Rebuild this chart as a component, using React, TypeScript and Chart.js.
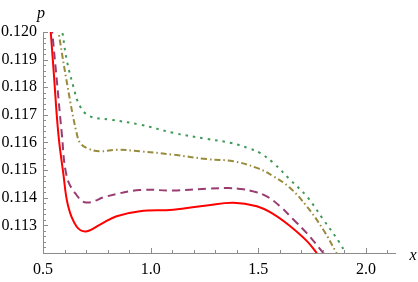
import React, { useEffect, useRef } from "react";
import { Chart, registerables } from "chart.js";

Chart.register(...registerables);

const xTicks = [0.5, 1.0, 1.5, 2.0];
const yTicks = [0.113, 0.114, 0.115, 0.116, 0.117, 0.118, 0.119, 0.12];

const redX = [0.53, 0.55, 0.571, 0.594, 0.617, 0.656, 0.7, 0.765, 0.842, 0.95, 1.105, 1.26, 1.384, 1.493, 1.57, 1.647, 1.725, 1.771, 1.8];
const redY = [0.12065, 0.11853, 0.11634, 0.1149, 0.11369, 0.11296, 0.11278, 0.11303, 0.11333, 0.11351, 0.11357, 0.11372, 0.11382, 0.11369, 0.11341, 0.11298, 0.11244, 0.112, 0.11168];

const purpleX = [0.535, 0.543, 0.565, 0.587, 0.61, 0.649, 0.7, 0.796, 0.95, 1.105, 1.26, 1.36, 1.415, 1.477, 1.539, 1.601, 1.663, 1.725, 1.802, 1.83];
const purpleY = [0.1207, 0.12, 0.11818, 0.11635, 0.11478, 0.11417, 0.11383, 0.11405, 0.11428, 0.11426, 0.11433, 0.11435, 0.11432, 0.11423, 0.11405, 0.11369, 0.11321, 0.11272, 0.112, 0.11173];

const goldX = [0.56, 0.572, 0.625, 0.656, 0.672, 0.703, 0.765, 0.842, 0.95, 1.105, 1.26, 1.384, 1.493, 1.57, 1.647, 1.725, 1.802, 1.863, 1.89];
const goldY = [0.1207, 0.12, 0.11755, 0.11635, 0.11599, 0.1158, 0.11568, 0.11574, 0.11568, 0.11556, 0.1154, 0.11532, 0.11508, 0.11478, 0.11436, 0.11369, 0.11284, 0.112, 0.1116];

const greenX = [0.58, 0.59, 0.61, 0.641, 0.672, 0.718, 0.811, 0.95, 1.105, 1.26, 1.369, 1.46, 1.508, 1.57, 1.647, 1.725, 1.802, 1.879, 1.905, 1.93];
const greenY = [0.1205, 0.12, 0.119, 0.11803, 0.11731, 0.11695, 0.11683, 0.11665, 0.11635, 0.11613, 0.11599, 0.11578, 0.11562, 0.11526, 0.11466, 0.11405, 0.11321, 0.11236, 0.112, 0.1117];

const FONT = "'Liberation Serif', 'Times New Roman', serif";
const AXIS_COLOR = "#8c8c8c";

const toPts = (xs: number[], ys: number[]) => xs.map((x, i) => ({ x, y: ys[i] }));

const axisPlugin = {
  id: "mmaAxes",
  afterDraw(chart: any) {
    const { ctx, chartArea, scales } = chart;
    const xs = scales.x;
    const ys = scales.y;
    ctx.save();
    ctx.strokeStyle = AXIS_COLOR;
    ctx.lineWidth = 1;
    for (let i = 0; i <= 40; i++) {
      const v = 0.112 + i * 0.0002;
      const py = Math.round(ys.getPixelForValue(v)) + 0.5;
      const len = i % 5 === 0 ? 5 : 3;
      ctx.beginPath();
      ctx.moveTo(chartArea.left, py);
      ctx.lineTo(chartArea.left + len, py);
      ctx.stroke();
    }
    for (let i = 0; i <= 16; i++) {
      const v = 0.5 + i * 0.1;
      const px = Math.round(xs.getPixelForValue(v)) + 0.5;
      const len = i % 5 === 0 ? 5 : 3;
      ctx.beginPath();
      ctx.moveTo(px, chartArea.bottom);
      ctx.lineTo(px, chartArea.bottom - len);
      ctx.stroke();
    }
    ctx.fillStyle = "#000";
    ctx.font = `italic 16px ${FONT}`;
    ctx.textAlign = "center";
    ctx.textBaseline = "alphabetic";
    ctx.fillText("p", chartArea.left - 2, 18);
    ctx.fillText("x", 413, 260);
    ctx.restore();
  },
};

export default function App() {
  const ref = useRef<HTMLCanvasElement | null>(null);
  useEffect(() => {
    document.body.style.margin = "0";
    const canvas = ref.current!;
    const common = { pointRadius: 0, borderWidth: 2, tension: 0.4, cubicInterpolationMode: "default" };
    const chart = new Chart(canvas, {
      type: "line",
      data: {
        datasets: [
          { ...common, data: toPts(greenX, greenY), borderColor: "#3d9956", borderDash: [2.5, 5] },
          { ...common, data: toPts(goldX, goldY), borderColor: "#998b3d", borderDash: [6, 3, 1.5, 3] },
          { ...common, data: toPts(purpleX, purpleY), borderColor: "#993d71", borderDash: [8, 5] },
          { ...common, data: toPts(redX, redY), borderColor: "#ff0000" },
        ],
      },
      options: {
        animation: false,
        responsive: false,
        devicePixelRatio: 1,
        layout: { padding: { left: 0, right: 23, top: 32, bottom: 0 } },
        plugins: { legend: { display: false }, tooltip: { enabled: false } },
        scales: {
          x: {
            type: "linear",
            min: 0.5,
            max: 2.135,
            grid: { display: false, drawTicks: false },
            border: { display: true, color: AXIS_COLOR, width: 1 },
            afterBuildTicks: (s: any) => {
              s.ticks = xTicks.map((v) => ({ value: v }));
            },
            afterFit: (s: any) => {
              s.height = 29;
            },
            ticks: {
              color: "#000",
              padding: 7,
              maxRotation: 0,
              autoSkip: false,
              font: { family: FONT, size: 16 },
              callback: (v: any) => Number(v).toFixed(1),
            },
          },
          y: {
            type: "linear",
            min: 0.112,
            max: 0.12,
            grid: { display: false, drawTicks: false },
            border: { display: true, color: AXIS_COLOR, width: 1 },
            afterBuildTicks: (s: any) => {
              s.ticks = yTicks.map((v) => ({ value: v }));
            },
            afterFit: (s: any) => {
              s.width = 43;
            },
            ticks: {
              color: "#000",
              padding: 6,
              autoSkip: false,
              font: { family: FONT, size: 16 },
              callback: (v: any) => Number(v).toFixed(3),
            },
          },
        },
      },
      plugins: [axisPlugin],
    } as any);
    return () => chart.destroy();
  }, []);
  return (
    <div style={{ position: "fixed", left: 0, top: 0, width: 418, height: 282 }}>
      <canvas ref={ref} width={418} height={282} />
    </div>
  );
}
